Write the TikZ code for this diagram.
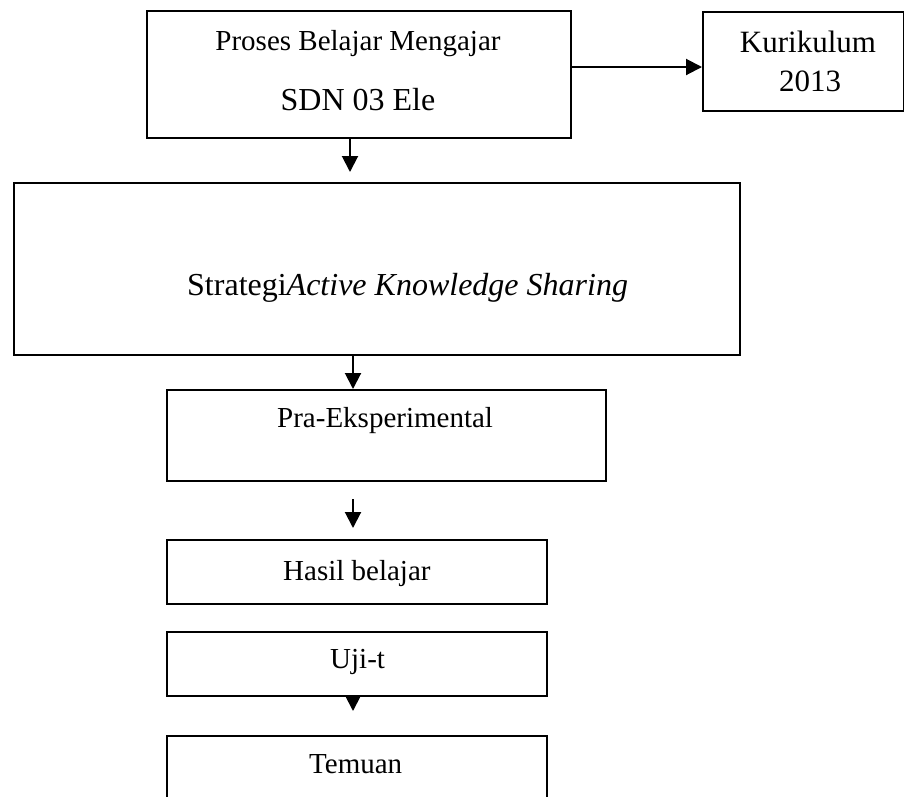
\documentclass[tikz,border=0pt]{standalone}
\usepackage{fontspec}
\setmainfont{Liberation Serif}
\usetikzlibrary{arrows.meta,calc}
\begin{document}
\begin{tikzpicture}[x=1pt,y=-1pt,
  box/.style={draw=black,line width=2pt,inner sep=0pt,anchor=north west},
  arr/.style={line width=2pt,-{Triangle[length=16pt,width=16pt]}},
  txt/.style={inner sep=0pt,font=\fontsize{29}{34}\selectfont},
  bigtxt/.style={inner sep=0pt,font=\fontsize{32}{38}\selectfont}]
\useasboundingbox (0,0) rectangle (904,796);
\clip (0,0) rectangle (904,796);
% boxes
\node[box,minimum width=424pt,minimum height=127pt] (b1) at (146,10) {};
\node[box,minimum width=201pt,minimum height=99pt] (b2) at (702,11) {};
\node[box,minimum width=726pt,minimum height=172pt] (b3) at (13,182) {};
\node[box,minimum width=439pt,minimum height=91pt] (b4) at (166,389) {};
\node[box,minimum width=380pt,minimum height=64pt] (b5) at (166,539) {};
\node[box,minimum width=380pt,minimum height=64pt] (b6) at (166,631) {};
\node[box,minimum width=380pt,minimum height=110pt] (b7) at (166,735) {};
% texts
\node[txt,anchor=base] (t1a) at (358,50) {Proses Belajar Mengajar};
\node[bigtxt,anchor=base] (t1b) at (358,110) {SDN 03 Ele};
\node[inner sep=0pt,font=\fontsize{31}{36}\selectfont,anchor=base] (t2a) at (808,52) {Kurikulum};
\node[inner sep=0pt,font=\fontsize{31}{36}\selectfont,anchor=base] (t2b) at (810,91) {2013};
\node[bigtxt,anchor=base west] (t3) at (187,295) {Strategi\textit{Active Knowledge Sharing}};
\node[txt,anchor=base west] (t4) at (277,427) {Pra-Eksperimental};
\node[txt,anchor=base west] (t5) at (283,580) {Hasil belajar};
\node[txt,anchor=base west] (t6) at (330,668) {Uji-t};
\node[txt,anchor=base west] (t7) at (309,773) {Temuan};
% connectors
\coordinate (x1) at (350,0);
\coordinate (x2) at (353,0);
\draw[arr] ($(b1.north east)+(0,57)$) -- ($(b2.north west)+(0,56)$);
\draw[arr,shorten >=10pt] (b1.south -| x1) -- (b3.north -| x1);
\draw[arr] (b3.south -| x2) -- (b4.north -| x2);
\draw[arr,shorten <=17pt,shorten >=11pt] (b4.south -| x2) -- (b5.north -| x2);
\draw[arr,shorten >=24pt] (b6.south -| x2) -- (b7.north -| x2);
\end{tikzpicture}
\end{document}
